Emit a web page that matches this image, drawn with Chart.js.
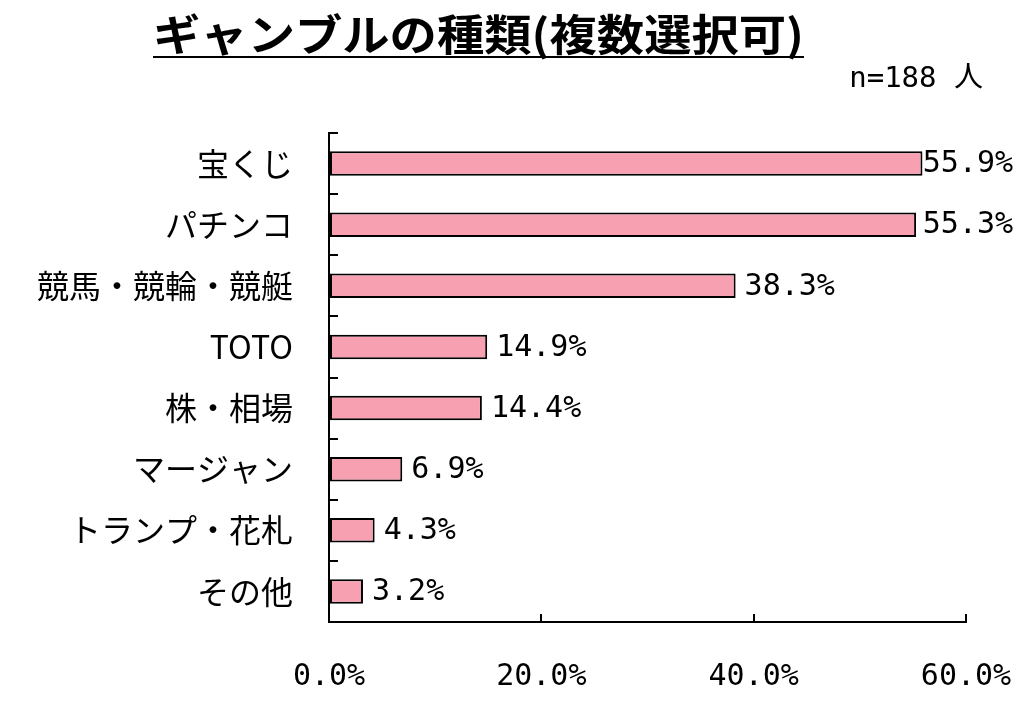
<!DOCTYPE html>
<html><head><meta charset="utf-8">
<script src="https://cdn.jsdelivr.net/npm/chart.js@4/dist/chart.umd.min.js"></script>
<style>html,body{margin:0;padding:0;background:#fff;overflow:hidden}</style>
</head><body>
<canvas id="c" width="1024" height="703"></canvas>
<script>
const categories = ['宝くじ', 'パチンコ', '競馬・競輪・競艇', 'TOTO', '株・相場', 'マージャン', 'トランプ・花札', 'その他'];
const percentages = [55.9, 55.3, 38.3, 14.9, 14.4, 6.9, 4.3, 3.2];
const xTickMin = 0;
const xTickMax = 60;
const xTickStep = 20;
const titleText = 'ギャンブルの種類(複数選択可)';
const sampleText = 'n=188 人';

const numFont = '30px "DejaVu Sans Mono", "Noto Sans CJK JP", sans-serif';
const jpFont = '"Noto Sans CJK JP", "Noto Sans", sans-serif';

const decorPlugin = {
  id: 'decor',
  afterDraw(chart) {
    const ctx = chart.ctx;
    ctx.save();
    // title
    ctx.fillStyle = '#000';
    ctx.font = 'bold 43px ' + jpFont;
    ctx.textAlign = 'left';
    ctx.textBaseline = 'middle';
    const tw = ctx.measureText(titleText).width;
    const targetW = 651;
    ctx.save();
    ctx.translate(153, 35);
    ctx.scale(targetW / tw, 1);
    ctx.fillText(titleText, 0, 0);
    ctx.restore();
    ctx.strokeStyle = '#000';
    ctx.lineWidth = 2;
    ctx.beginPath();
    ctx.moveTo(153, 57);
    ctx.lineTo(153 + targetW, 57);
    ctx.stroke();
    // sample size
    ctx.font = '29px "DejaVu Sans Mono", "Noto Sans CJK JP", sans-serif';
    ctx.textAlign = 'right';
    ctx.fillText(sampleText, 983, 79);
    // value labels
    const meta = chart.getDatasetMeta(0);
    ctx.font = numFont;
    ctx.textAlign = 'left';
    ctx.textBaseline = 'middle';
    meta.data.forEach((bar, i) => {
      const txt = percentages[i].toFixed(1) + '%';
      const w = ctx.measureText(txt).width;
      const x = Math.min(bar.x + 9, chart.width - w - 11);
      ctx.fillText(txt, x, bar.y + 1);
    });
    ctx.restore();
  }
};

new Chart(document.getElementById('c'), {
  type: 'bar',
  data: {
    labels: categories,
    datasets: [{
      data: percentages,
      backgroundColor: '#F6A0B2',
      borderColor: '#000',
      borderWidth: 2,
      borderSkipped: false,
      barPercentage: 0.4,
      categoryPercentage: 1
    }]
  },
  options: {
    indexAxis: 'y',
    responsive: false,
    animation: false,
    devicePixelRatio: 1,
    layout: { padding: { top: 133, right: 58, left: 0, bottom: 0 } },
    plugins: { legend: { display: false }, tooltip: { enabled: false }, title: { display: false } },
    scales: {
      y: {
        afterFit(scale) { scale.width = 329; scale.paddingTop = 0; scale.paddingBottom = 0; },
        grid: { display: true, drawOnChartArea: false, drawTicks: true, tickLength: -9, color: '#000', lineWidth: 2, offset: true },
        border: { display: true, color: '#000', width: 2 },
        ticks: { color: '#000', padding: 45, font: { family: jpFont, size: 32 } }
      },
      x: {
        min: xTickMin,
        max: xTickMax,
        afterFit(scale) { scale.height = 81; scale.paddingLeft = 0; scale.paddingRight = 0; },
        grid: { display: true, drawOnChartArea: false, drawTicks: true, tickLength: -8, color: '#000', lineWidth: 2 },
        border: { display: true, color: '#000', width: 2 },
        ticks: {
          stepSize: xTickStep,
          color: '#000',
          padding: 45,
          maxRotation: 0,
          font: { family: '"DejaVu Sans Mono", sans-serif', size: 30 },
          callback: v => Number(v).toFixed(1) + '%'
        }
      }
    }
  },
  plugins: [decorPlugin]
});
</script>
</body></html>
